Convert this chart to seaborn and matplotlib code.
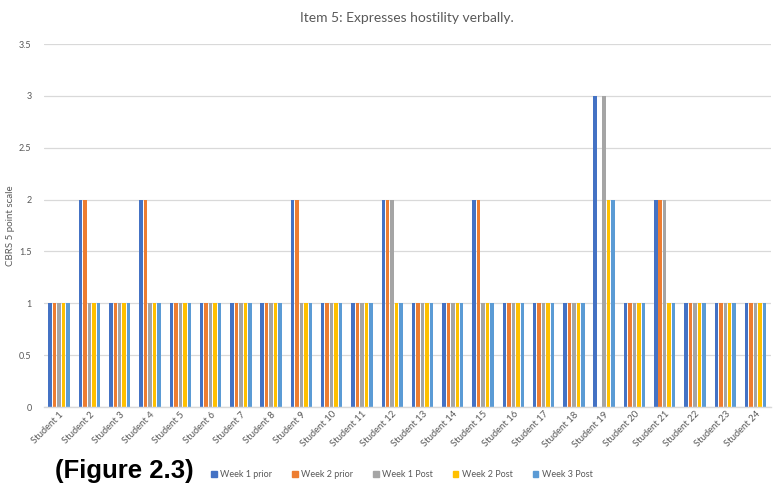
import matplotlib
matplotlib.use("Agg")
import matplotlib.pyplot as plt
import seaborn as sns
import pandas as pd

students = [f"Student {i}" for i in range(1, 25)]
series = ["Week 1 prior", "Week 2 prior", "Week 1 Post", "Week 2 Post", "Week 3 Post"]
week1_prior = [1, 2, 1, 2, 1, 1, 1, 1, 2, 1, 1, 2, 1, 1, 2, 1, 1, 1, 3, 1, 2, 1, 1, 1]
week2_prior = [1, 2, 1, 2, 1, 1, 1, 1, 2, 1, 1, 2, 1, 1, 2, 1, 1, 1, 0, 1, 2, 1, 1, 1]
week1_post = [1, 1, 1, 1, 1, 1, 1, 1, 1, 1, 1, 2, 1, 1, 1, 1, 1, 1, 3, 1, 2, 1, 1, 1]
week2_post = [1, 1, 1, 1, 1, 1, 1, 1, 1, 1, 1, 1, 1, 1, 1, 1, 1, 1, 2, 1, 1, 1, 1, 1]
week3_post = [1, 1, 1, 1, 1, 1, 1, 1, 1, 1, 1, 1, 1, 1, 1, 1, 1, 1, 2, 1, 1, 1, 1, 1]
colors = ["#4472C4", "#ED7D31", "#A5A5A5", "#FFC000", "#5B9BD5"]

values = [week1_prior, week2_prior, week1_post, week2_post, week3_post]
df = pd.DataFrame(
    [(s, name, v) for name, vals in zip(series, values) for s, v in zip(students, vals)],
    columns=["Student", "Series", "Score"],
)

sns.set_theme(style="white")
plt.rcParams["font.family"] = ["Lato", "DejaVu Sans"]

fig = plt.figure(figsize=(7.73, 4.84), dpi=100)
ax = fig.add_axes([0.057, 0.159, 0.94, 0.75])

sns.barplot(data=df, x="Student", y="Score", hue="Series", hue_order=series,
            palette=colors, order=students, width=0.74, ax=ax, legend=False,
            saturation=1, errorbar=None, linewidth=0)

# narrow each bar so thin white gaps separate the series
for p in ax.patches:
    w = p.get_width()
    c = p.get_x() + w / 2
    nw = w * 0.78
    p.set_x(c - nw / 2)
    p.set_width(nw)

ax.set_ylim(0, 3.5)
ax.set_xlim(-0.5, 23.5)
ax.set_yticks([0, 0.5, 1, 1.5, 2, 2.5, 3, 3.5])
ax.set_yticklabels(["0", "0.5", "1", "1.5", "2", "2.5", "3", "3.5"])
ax.yaxis.grid(True, color="#D9D9D9", linewidth=0.9)
ax.set_axisbelow(True)
for side in ["top", "right", "left"]:
    ax.spines[side].set_visible(False)
ax.spines["bottom"].set_color("#D9D9D9")
ax.spines["bottom"].set_linewidth(1.0)

ax.tick_params(axis="y", labelsize=6.5, colors="#595959", length=0, pad=9)
ax.tick_params(axis="x", labelsize=6.8, colors="#595959", length=0, pad=2)
plt.setp(ax.get_xticklabels(), rotation=45, ha="right", rotation_mode="anchor")

ax.set_xlabel("")
ax.set_ylabel("CBRS 5 point scale", fontsize=7, color="#595959", labelpad=3)
ax.set_title("Item 5: Expresses hostility verbally.", fontsize=10, color="#595959", pad=16)

handles = [plt.Rectangle((0, 0), 1, 1, color=c) for c in colors]
fig.legend(handles, series, loc="center", bbox_to_anchor=(0.52, 0.02), ncol=5,
           frameon=False, fontsize=6.5, labelcolor="#595959", handlelength=0.6,
           handleheight=0.6, handletextpad=0.4, columnspacing=2.2)

fig.text(0.071, 0.013, "(Figure 2.3)", fontsize=18.5, fontweight="bold",
         family=["Liberation Sans", "DejaVu Sans"], color="black")

fig.savefig("out.png", dpi=100, facecolor="white")
